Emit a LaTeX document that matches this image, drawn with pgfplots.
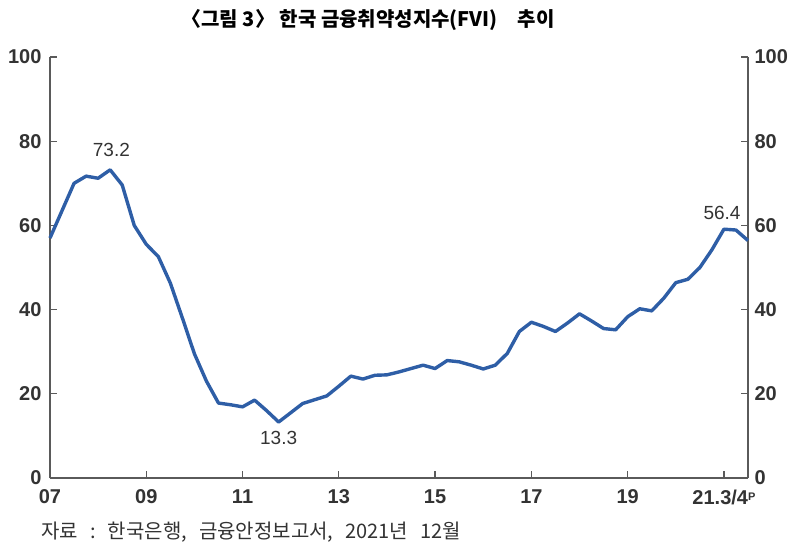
\documentclass[border=0pt]{standalone}
\usepackage{fontspec}
\setmainfont{Liberation Sans}
\newfontfamily\cjk{Noto Sans CJK KR}
\usepackage{pgfplots}
\pgfplotsset{compat=1.18}
\definecolor{fviblue}{HTML}{2E5EA6}
\definecolor{axgray}{HTML}{5A5A5A}
\definecolor{txtgray}{HTML}{333333}

\pgfplotstableread{
i v
0 57.0
1 63.5
2 70.0
3 71.7
4 71.2
5 73.2
6 69.6
7 60.0
8 55.5
9 52.6
10 46.3
11 38.0
12 29.5
13 23.0
14 17.8
15 17.4
16 16.9
17 18.5
18 16.0
19 13.3
20 15.5
21 17.7
22 18.6
23 19.5
24 21.8
25 24.2
26 23.5
27 24.4
28 24.5
29 25.2
30 26.0
31 26.8
32 26.0
33 27.9
34 27.6
35 26.8
36 25.9
37 26.8
38 29.6
39 34.8
40 37.0
41 36.0
42 34.8
43 36.8
44 39.0
45 37.3
46 35.5
47 35.2
48 38.3
49 40.2
50 39.7
51 42.7
52 46.4
53 47.2
54 50.0
55 54.2
56 59.1
57 58.9
58 56.4
}\fvi

\begin{document}
\begin{tikzpicture}
\path (0pt,0pt) rectangle (803pt,550pt);
\begin{axis}[
  at={(50pt,72pt)}, anchor=south west, scale only axis,
  width=698pt, height=421pt,
  xmin=0, xmax=58, ymin=0, ymax=100,
  axis x line=bottom, axis y line=box,
  axis line style={-, draw=axgray, line width=1.3pt},
  tick align=inside, major tick length=7pt,
  tick style={draw=axgray, line width=1.3pt},
  xtick={0,8,...,56},
  xticklabels={07,09,11,13,15,17,19,{21.3/4\raisebox{4pt}{\fontsize{11}{11}\selectfont P}}},
  ytick={0,20,...,100},
  yticklabel pos=left,
  ticklabel style={font=\fontsize{20}{22}\selectfont\bfseries, text=txtgray},
  /pgf/number format/assume math mode=true,
  xticklabel style={yshift=-8pt},
  yticklabel style={xshift=-5pt},
  clip=false,
]
\addplot[fviblue, line width=3.4pt, line join=round] table[x=i, y=v] {\fvi};
\node[font=\fontsize{19}{21}\selectfont, text=txtgray] at (axis cs:5.1,73.2) [yshift=20pt] {73.2};
\node[font=\fontsize{19}{21}\selectfont, text=txtgray] at (axis cs:19,13.3) [yshift=-16pt] {13.3};
\node[font=\fontsize{19}{21}\selectfont, text=txtgray] at (axis cs:58,56.4) [xshift=-26pt, yshift=28pt] {56.4};
\end{axis}
\begin{axis}[
  at={(50pt,72pt)}, anchor=south west, scale only axis,
  width=698pt, height=421pt,
  xmin=0, xmax=58, ymin=0, ymax=100,
  axis x line=none, axis y line*=right,
  axis line style={draw=none},
  major tick length=0pt,
  xtick=\empty,
  ytick={0,20,...,100},
  yticklabel pos=right,
  ticklabel style={font=\fontsize{20}{22}\selectfont\bfseries, text=txtgray},
  /pgf/number format/assume math mode=true,
  yticklabel style={xshift=3pt},
]
\end{axis}
\node[font=\cjk\fontsize{20}{24}\selectfont\bfseries, text=black] at (368pt,530pt) {〈그림 3〉 한국 금융취약성지수(FVI)\quad 추이};
\node[anchor=west, font=\cjk\fontsize{20}{22}\selectfont, text=txtgray] at (38pt,18pt) {자료\hspace{12pt}:\hspace{12pt}한국은행,\hspace{12pt}금융안정보고서,\hspace{12pt}2021년\hspace{12pt}12월};
\end{tikzpicture}
\end{document}
